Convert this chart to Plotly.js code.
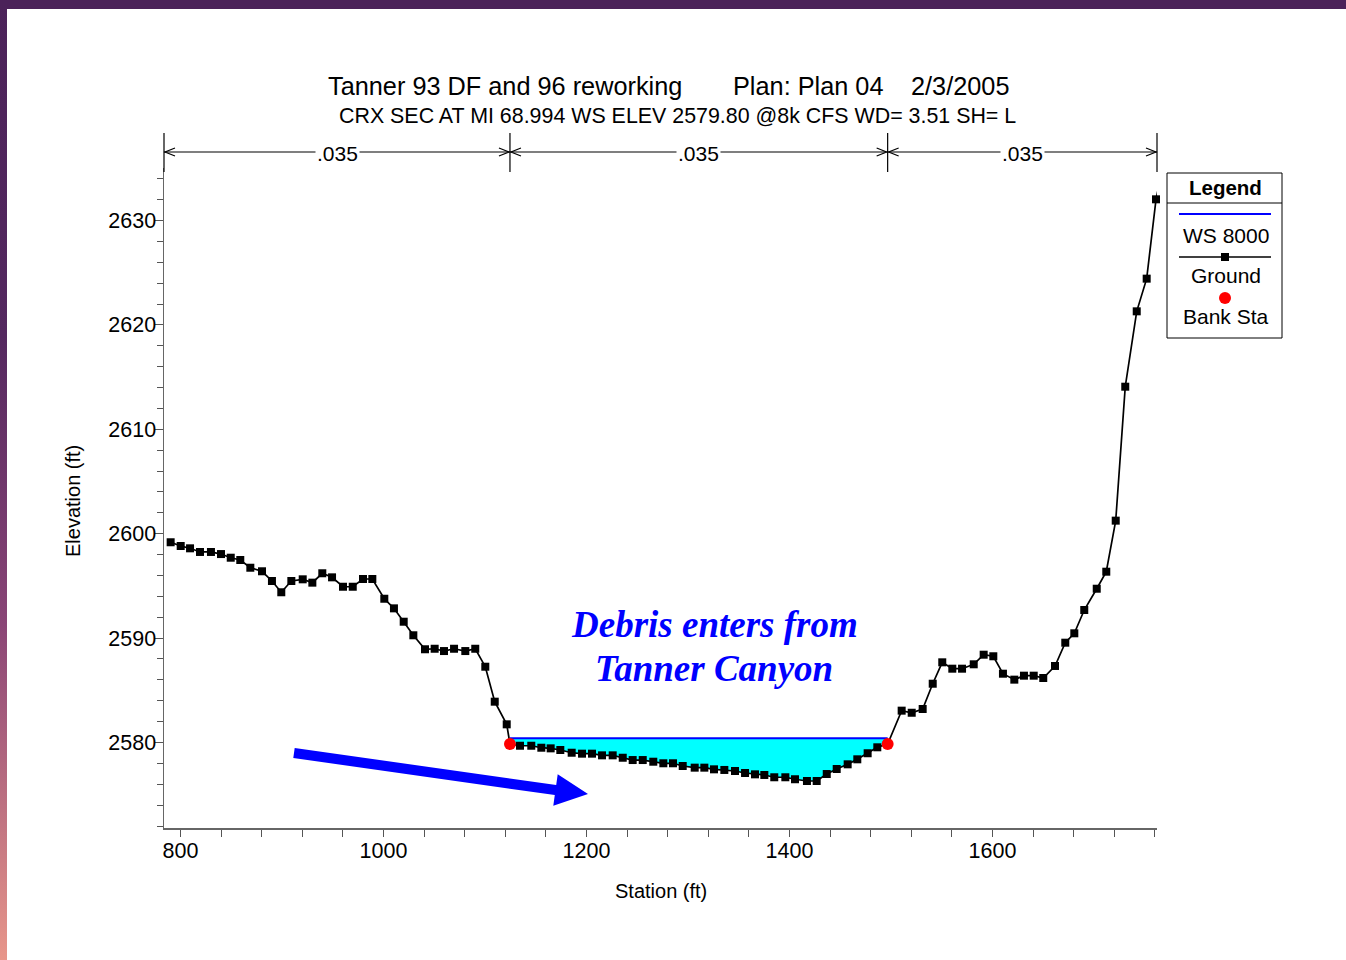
<!DOCTYPE html>
<html><head><meta charset="utf-8">
<script src="https://cdn.plot.ly/plotly-3.0.1.min.js"></script>
<style>
html,body{margin:0;padding:0;background:#fff;overflow:hidden}
#chart{width:1346px;height:960px;position:absolute;left:0;top:0}
#topbar{position:absolute;left:0;top:0;width:1346px;height:9px;background:#4b2259}
#leftbar{position:absolute;left:0;top:0;width:7px;height:960px;background:linear-gradient(#4b2259 0%, #54285f 35%, #8a4576 65%, #e8968a 100%)}
</style></head><body>
<div id="chart"></div><div id="topbar"></div><div id="leftbar"></div>
<script>
// ---------- data ----------
const stations = [
  790.3, 800.2, 809.4, 819.2, 830.0, 839.9, 849.5, 858.9, 868.8, 880.3,
  890.1, 899.3, 909.2, 920.4, 929.9, 939.7, 949.3, 960.1, 969.7, 979.8,
  989.0, 1000.8, 1010.3, 1019.9, 1029.4, 1040.9, 1050.4, 1059.6, 1069.5, 1080.6,
  1090.4, 1100.3, 1109.6, 1121.4, 1124.6,
  1134.5, 1145.6, 1155.5, 1164.7, 1174.2, 1185.4, 1195.6, 1205.4, 1215.3, 1225.8,
  1235.7, 1245.5, 1255.4, 1265.8, 1275.7, 1285.2, 1294.8, 1306.6, 1316.1, 1325.6,
  1335.8, 1346.3, 1356.2, 1366.0, 1375.2, 1385.0, 1395.9, 1405.4, 1417.2, 1426.8,
  1436.7, 1446.5, 1457.3, 1466.8, 1477.0, 1486.5, 1496.7,
  1510.5, 1520.4, 1531.2, 1541.1, 1550.5, 1560.4, 1570.0, 1581.5, 1591.3, 1600.8,
  1610.3, 1621.5, 1631.0, 1640.6, 1650.0, 1661.6, 1671.7, 1680.6, 1690.4, 1702.7,
  1712.1, 1721.4, 1730.8, 1742.1, 1751.9, 1761.1, 1772.0
];
const elevations = [
  2599.18, 2598.82, 2598.60, 2598.25, 2598.25, 2598.05, 2597.70, 2597.48, 2596.74, 2596.40,
  2595.47, 2594.39, 2595.47, 2595.63, 2595.31, 2596.21, 2595.82, 2594.92, 2594.92, 2595.66,
  2595.66, 2593.77, 2592.85, 2591.57, 2590.27, 2588.93, 2588.98, 2588.76, 2588.98, 2588.76,
  2588.98, 2587.26, 2583.91, 2581.74, 2579.86,
  2579.69, 2579.69, 2579.50, 2579.44, 2579.28, 2579.02, 2578.93, 2578.93, 2578.77, 2578.77,
  2578.54, 2578.32, 2578.32, 2578.16, 2578.01, 2578.01, 2577.75, 2577.59, 2577.59, 2577.43,
  2577.37, 2577.27, 2577.08, 2576.95, 2576.89, 2576.67, 2576.67, 2576.48, 2576.31, 2576.31,
  2576.98, 2577.46, 2577.91, 2578.39, 2578.97, 2579.54, 2579.86,
  2583.05, 2582.85, 2583.21, 2585.63, 2587.68, 2587.07, 2587.07, 2587.49, 2588.41, 2588.26,
  2586.59, 2586.02, 2586.40, 2586.40, 2586.18, 2587.33, 2589.56, 2590.46, 2592.69, 2594.73,
  2596.36, 2601.25, 2614.08, 2621.30, 2624.43, 2632.03, 2636.90
];
const bankStations = [1124.6, 1496.7];
const bankElevations = [2579.86, 2579.86];
const wsElevation = 2580.40;
const nValues = ['.035', '.035', '.035'];
const xTickVals = [800, 1000, 1200, 1400, 1600];
const yTickVals = [2580, 2590, 2600, 2610, 2620, 2630];
const titleParts = ['Tanner 93 DF and 96 reworking', 'Plan: Plan 04', '2/3/2005'];
const subTitle = 'CRX SEC AT MI 68.994 WS ELEV 2579.80 @8k CFS WD= 3.51 SH= L';
const legendTitle = 'Legend';
const legendNames = ['WS 8000', 'Ground', 'Bank Sta'];
const noteLines = ['Debris enters from', 'Tanner Canyon'];

// ---------- layout helpers (pixel -> paper) ----------
const PL = 164, PR = 1157, PT = 168, PB = 828;
const px = v => (v - PL) / (PR - PL);
const py = v => (PB - v) / (PB - PT);
const FONT = 'Liberation Sans, Arial, sans-serif';

const xmin = 800 - (180.5 - PL) / 1.015, xmax = 800 + (PR - 180.5) / 1.015;
const ymin = 2580 - (PB - 742.5) / 10.44, ymax = 2580 + (742.5 - PT) / 10.44;

const leftBank = bankStations[0], rightBank = bankStations[1];
const chX = [], chY = [], inX = [], inY = [];
stations.forEach((s, i) => {
  if (s >= leftBank && s <= rightBank) { chX.push(s); chY.push(elevations[i]); }
  if (s <= xmax) { inX.push(s); inY.push(elevations[i]); }
});

const traces = [
  { x: chX.concat([rightBank, leftBank]), y: chY.concat([wsElevation, wsElevation]),
    type: 'scatter', mode: 'lines', fill: 'toself', fillcolor: '#00ffff',
    line: { width: 0 }, hoverinfo: 'skip', showlegend: false },
  { x: [leftBank, rightBank], y: [wsElevation, wsElevation], type: 'scatter', mode: 'lines',
    line: { color: '#0000ff', width: 2 }, name: legendNames[0], showlegend: false },
  { x: stations, y: elevations, type: 'scatter', mode: 'lines',
    line: { color: '#000000', width: 1.7 }, name: legendNames[1], showlegend: false },
  { x: inX, y: inY, type: 'scatter', mode: 'markers', cliponaxis: false,
    marker: { symbol: 'square', size: 8, color: '#000000' }, name: legendNames[1], showlegend: false },
  { x: bankStations, y: bankElevations, type: 'scatter', mode: 'markers',
    marker: { symbol: 'circle', size: 12, color: '#ff0000' }, name: legendNames[2], showlegend: false, cliponaxis: false }
];

const shapes = [];
const annotations = [];
function note(text, x, y, size, extra) {
  annotations.push(Object.assign({ text: text, xref: 'paper', yref: 'paper', x: x, y: y,
    xanchor: 'center', yanchor: 'middle', showarrow: false,
    font: { family: FONT, size: size, color: '#000' } }, extra || {}));
}
// n-value brackets
const bTop = py(133), bBot = py(172), bMid = py(152), bText = py(154);
const bounds = [{ ref: 'paper', v: 0 }, { ref: 'x', v: leftBank }, { ref: 'x', v: rightBank }, { ref: 'paper', v: 1 }];
bounds.forEach(b => shapes.push({ type: 'line', xref: b.ref, yref: 'paper', x0: b.v, x1: b.v, y0: bBot, y1: bTop,
  line: { color: '#000', width: 1.2 } }));
shapes.push({ type: 'line', xref: 'paper', yref: 'paper', x0: 0, x1: 1, y0: bMid, y1: bMid, line: { color: '#000', width: 1.2 } });
for (let i = 0; i < 3; i++) {
  const a = bounds[i], b = bounds[i + 1];
  shapes.push({ type: 'path', xref: a.ref, xsizemode: 'pixel', xanchor: a.v, yref: 'paper', ysizemode: 'pixel', yanchor: bMid,
    path: 'M 11,4 L 1,0 L 11,-4', line: { color: '#000', width: 1.2 } });
  shapes.push({ type: 'path', xref: b.ref, xsizemode: 'pixel', xanchor: b.v, yref: 'paper', ysizemode: 'pixel', yanchor: bMid,
    path: 'M -11,4 L -1,0 L -11,-4', line: { color: '#000', width: 1.2 } });
}
const centersX = [px(337.5), px(698), px(1022)];
nValues.forEach((t, i) => note(t, centersX[i], bText, 21, { bgcolor: '#ffffff', borderpad: 1 }));

// titles
const tX = [px(326), px(731), px(909)];
titleParts.forEach((t, i) => note(t, tX[i], py(86), 25.3, { xanchor: 'left' }));
note(subTitle, px(677.5), py(116), 21.4);
// axis titles
note('Elevation (ft)', px(73), py(501), 20, { textangle: -90 });
note('Station (ft)', px(661), py(891), 20);
// debris note
const serif = { family: 'Liberation Serif, Times New Roman, serif', size: 37, color: '#0000ff' };
note('<b><i>' + noteLines[0] + '</i></b>', px(714), py(624), 37, { font: serif });
note('<b><i>' + noteLines[1] + '</i></b>', px(714), py(668), 37, { font: serif });
// blue arrow
const arrowPts = [[294.7, 748], [556.2, 785], [557.7, 774.2], [588, 794], [553.3, 805.8], [554.8, 795], [293.3, 758]];
shapes.push({ type: 'path', xref: 'paper', yref: 'paper',
  path: 'M ' + arrowPts.map(p => px(p[0]).toFixed(5) + ',' + py(p[1]).toFixed(5)).join(' L ') + ' Z',
  fillcolor: '#0000ff', line: { width: 0 } });

// legend box
shapes.push({ type: 'rect', xref: 'paper', yref: 'paper', x0: px(1167), x1: px(1282), y0: py(338), y1: py(173),
  line: { color: '#000', width: 1 }, fillcolor: '#fff' });
shapes.push({ type: 'line', xref: 'paper', yref: 'paper', x0: px(1167), x1: px(1282), y0: py(203), y1: py(203),
  line: { color: '#000', width: 1 } });
note('<b>' + legendTitle + '</b>', px(1225), py(187), 20.5);
shapes.push({ type: 'line', xref: 'paper', yref: 'paper', x0: px(1179), x1: px(1271), y0: py(214), y1: py(214),
  line: { color: '#0000ff', width: 2 } });
note(legendNames[0], px(1225.5), py(235), 21);
shapes.push({ type: 'line', xref: 'paper', yref: 'paper', x0: px(1179), x1: px(1271), y0: py(257), y1: py(257),
  line: { color: '#000', width: 1.7 } });
shapes.push({ type: 'rect', xref: 'paper', xsizemode: 'pixel', xanchor: px(1225), x0: -4, x1: 4,
  yref: 'paper', ysizemode: 'pixel', yanchor: py(257), y0: -4, y1: 4, fillcolor: '#000', line: { width: 0 } });
note(legendNames[1], px(1225.5), py(275), 21);
shapes.push({ type: 'circle', xref: 'paper', xsizemode: 'pixel', xanchor: px(1225), x0: -6, x1: 6,
  yref: 'paper', ysizemode: 'pixel', yanchor: py(298), y0: -6, y1: 6, fillcolor: '#ff0000', line: { width: 0 } });
note(legendNames[2], px(1225.5), py(316), 21);

const layout = {
  width: 1346, height: 960,
  margin: { l: PL, r: 1346 - PR, t: PT, b: 960 - PB, pad: 0 },
  paper_bgcolor: '#ffffff', plot_bgcolor: '#ffffff',
  showlegend: false,
  font: { family: FONT, size: 20, color: '#000' },
  xaxis: {
    range: [xmin, xmax], showgrid: false, zeroline: false, showline: true, linecolor: '#666', linewidth: 1.5,
    tickmode: 'array', tickvals: xTickVals, ticktext: xTickVals.map(String), ticks: 'outside', ticklen: 7, tickcolor: '#555', tickwidth: 1,
    ticklabelstandoff: -4,
    minor: { dtick: 40, tick0: 800, ticks: 'outside', ticklen: 7, tickcolor: '#555', tickwidth: 1, showgrid: false },
    tickfont: { family: FONT, size: 21.5, color: '#000' }
  },
  yaxis: {
    range: [ymin, ymax], showgrid: false, zeroline: false, showline: true, linecolor: '#666', linewidth: 1.5,
    tickmode: 'array', tickvals: yTickVals, ticktext: yTickVals.map(String), ticks: 'outside', ticklen: 8, tickcolor: '#555', tickwidth: 1,
    ticklabelstandoff: -6,
    minor: { dtick: 2, tick0: 2580, ticks: 'outside', ticklen: 6, tickcolor: '#555', tickwidth: 1, showgrid: false },
    tickfont: { family: FONT, size: 21.5, color: '#000' }
  },
  shapes: shapes,
  annotations: annotations
};

Plotly.newPlot('chart', traces, layout, { displayModeBar: false, staticPlot: true });
</script>
</body></html>
